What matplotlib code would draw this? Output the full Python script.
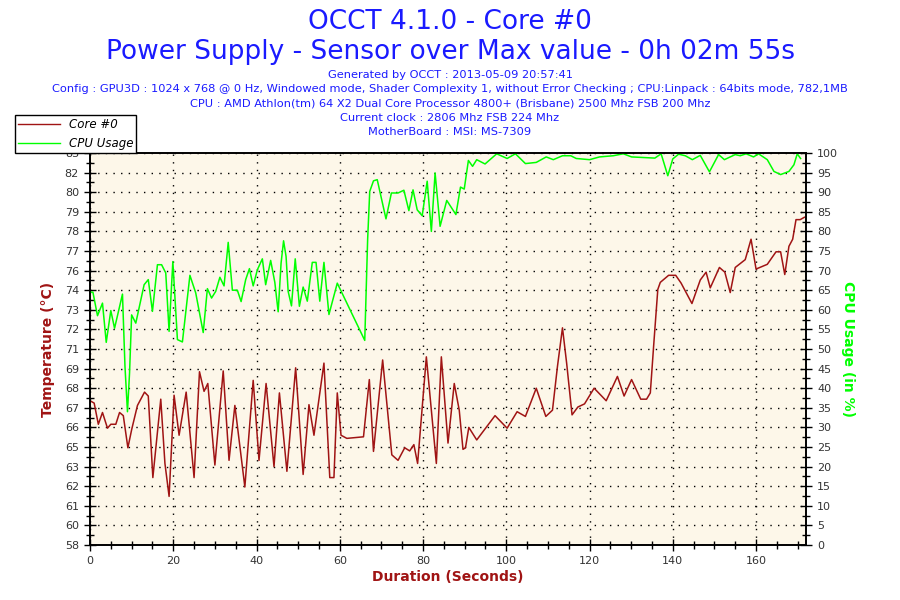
import matplotlib
matplotlib.use("Agg")
import matplotlib.pyplot as plt
from matplotlib.ticker import MultipleLocator, AutoMinorLocator
from matplotlib.lines import Line2D

# Core #0 temperature (seconds, degC)
core_t = [0, 1, 2, 3, 4.2, 5, 6.2, 7.1, 8, 9.1, 10, 11.4, 13.1, 14, 15.1, 17, 18, 19,
          20.2, 21.4, 23.1, 25, 26.3, 27.4, 28.3, 30, 32, 33.4, 34.8, 37.2, 39.2, 40.6,
          42.3, 44.2, 45.5, 47.3, 49.4, 51.2, 52.6, 53.8, 56.2, 57.6, 58.6, 59.4, 60.3,
          61.7, 65.7, 67.1, 68.1, 70.3, 72.5, 74, 75.6, 76.8, 77.8, 78.7, 80.8, 83.2,
          84.4, 86, 87.5, 88.7, 89.6, 90.2, 91, 92.9, 97.3, 100.2, 102.6, 104.6, 107.2,
          109.5, 111.1, 112.3, 113.5, 114.5, 115.8, 117.2, 118.8, 121.1, 124, 126.7,
          128.3, 130.1, 132.3, 133.7, 134.6, 135.4, 136.4, 137, 139, 140.7, 142, 144.6,
          146.6, 148, 149, 151.2, 152.5, 153.8, 155, 157.4, 158.8, 160, 162.7, 164.8,
          165.9, 166.9, 167.9, 168.8, 169.6, 170.6, 171.6]
core_temp = [67.2, 67.05, 65.7, 66.45, 65.45, 65.7, 65.7, 66.45, 66.25, 64.2, 65.35,
             66.9, 67.75, 67.5, 62.3, 67.3, 63.2, 61.1, 67.55, 65, 67.75, 62.3, 69.05,
             67.8, 68.3, 63.1, 69.1, 63.4, 66.9, 61.7, 68.5, 63.4, 68.3, 63, 67.7, 62.7,
             69.3, 62.5, 66.95, 65.0, 69.6, 62.3, 62.3, 67.7, 65.0, 64.8, 64.9, 68.55,
             63.97, 69.8, 63.75, 63.4, 64.2, 64, 64.4, 63.2, 70, 63.2, 70, 64.5, 68.3,
             66.6, 64.1, 64.2, 65.5, 64.7, 66.25, 65.45, 66.5, 66.2, 68, 66.2, 66.6, 69.4,
             71.85, 69.6, 66.3, 66.8, 67, 68, 67.2, 68.75, 67.5, 68.55, 67.3, 67.3, 67.7,
             70.7, 74.3, 74.75, 75.2, 75.2, 74.7, 73.4, 74.9, 75.4, 74.4, 75.7, 75.4,
             74.1, 75.7, 76.2, 77.5, 75.6, 75.9, 76.7, 76.7, 75.25, 77.05, 77.5, 78.75,
             78.75, 78.9]

# CPU usage (seconds, %)
cpu_t = [0, 0.7, 1.8, 3, 3.9, 5, 5.9, 7.8, 8.4, 9, 9.5, 10, 11, 13, 14, 15, 16.2, 17.2,
         18.2, 19, 19.9, 21, 22.2, 24, 25.4, 27.2, 28.2, 29.2, 30.2, 31.2, 32.2, 33.2,
         34.2, 35.4, 36.3, 37.4, 38.3, 39.2, 40.2, 41.4, 42.2, 43.4, 44.4, 45.2, 45.9,
         46.5, 47.1, 47.6, 48.4, 49.3, 50.3, 51.2, 52.2, 53.4, 54.3, 55.2, 56.2, 57.4,
         59.4, 66, 66.7, 67.2, 68.1, 69, 71.1, 72.4, 74, 75.4, 76.6, 77.6, 78.6, 79.8,
         81, 82, 82.9, 84.1, 85.7, 87.9, 89, 89.9, 90.9, 91.9, 92.9, 94.9, 97.7, 100.2,
         102.2, 104.6, 107.2, 109.6, 111.3, 113.5, 115.5, 116.8, 120, 122.4, 125.7,
         128.1, 130.1, 135.7, 137.2, 138.8, 140, 141.4, 143, 144.7, 146.6, 148.8, 151,
         152.4, 155, 156.2, 157.6, 159.4, 160.6, 162.7, 164.3, 165.9, 167.9, 169.1,
         169.9, 170.7]
cpu_usage = [64.5, 64.5, 58.5, 61.7, 51.7, 59.8, 55.3, 64, 45.6, 34, 43.9, 58.7, 56.6,
             66.4, 67.7, 59.6, 71.5, 71.5, 69.4, 54.5, 72.3, 52.4, 51.8, 68.8, 64.3, 54.2,
             65.4, 63, 64.7, 68.3, 66.1, 77.2, 65, 65, 62.1, 67.7, 70.5, 66.1, 70.2, 73,
             66.4, 72.6, 67, 59.5, 71.9, 77.6, 73.6, 64.7, 61, 73, 60.9, 65.8, 62.2, 72.1,
             72.1, 62.2, 72.1, 58.8, 66.8, 52.2, 78.1, 90.2, 92.9, 93.2, 83.2, 89.8, 89.8,
             90.5, 85.3, 90.6, 85.5, 84, 92.8, 80, 94.9, 81.3, 87.9, 84.3, 91.3, 90.8,
             98.1, 96.6, 98.3, 97.2, 99.8, 98.6, 99.8, 97.3, 97.6, 99, 98.3, 99.3, 99.3,
             98.6, 98.3, 99, 99.3, 99.8, 99, 98.7, 99.8, 94.2, 98.5, 99.7, 99.3, 98.3,
             99.4, 95.2, 99.6, 98.3, 99.6, 99.3, 99.8, 99, 99.8, 98.3, 95.3, 94.5, 95.3,
             97, 99.8, 98.6]

temp_labels = ["58", "60", "61", "62", "63", "65", "66", "67", "68", "69", "71",
               "72", "73", "74", "76", "77", "78", "79", "80", "82", "83"]
pct_ticks = list(range(0, 101, 5))

title_blue = "#1a1aff"
red = "#a01414"
green = "#00ff00"

fig = plt.figure(figsize=(9, 6), dpi=100)
ax = fig.add_axes([90 / 900, 55 / 600, 716 / 900, 392 / 600])
ax.set_facecolor("#fdf7e9")
ax2 = ax.twinx()

ax.plot(core_t, core_temp, color=red, lw=1.1)
ax2.plot(cpu_t, cpu_usage, color=green, lw=1.1)

ax.set_xlim(0, 172)
ax.set_ylim(58, 83)
ax2.set_ylim(0, 100)

temp_ticks = [58 + p * 0.25 for p in pct_ticks]
ax.set_yticks(temp_ticks)
ax.set_yticklabels(temp_labels)
ax2.set_yticks(pct_ticks)
ax.yaxis.set_minor_locator(AutoMinorLocator(2))
ax2.yaxis.set_minor_locator(AutoMinorLocator(2))
ax.xaxis.set_major_locator(MultipleLocator(20))
ax.xaxis.set_minor_locator(MultipleLocator(5))

for a in (ax, ax2):
    a.tick_params(which="major", direction="inout", length=9, width=1,
                  labelsize=8, labelcolor="#333333")
    a.tick_params(which="minor", direction="inout", length=6, width=1)
    for s in a.spines.values():
        s.set_linewidth(1.2)

ax.grid(True, which="major", color="black", linestyle=(0, (1, 4.5)), lw=1)

ax.set_xlabel("Duration (Seconds)", color=red, fontweight="bold", fontsize=10, labelpad=3)
ax.set_ylabel("Temperature (°C)", color=red, fontweight="bold", fontsize=10, labelpad=7)
ax2.set_ylabel("CPU Usage (in %)", color=green, fontweight="bold", fontsize=10,
               rotation=270, labelpad=12)

fig.text(0.5, 1 - 22 / 600, "OCCT 4.1.0 - Core #0", ha="center", va="center",
         fontsize=19, color=title_blue)
fig.text(0.5, 1 - 52 / 600, "Power Supply - Sensor over Max value - 0h 02m 55s",
         ha="center", va="center", fontsize=19, color=title_blue)
info = ["Generated by OCCT : 2013-05-09 20:57:41",
        "Config : GPU3D : 1024 x 768 @ 0 Hz, Windowed mode, Shader Complexity 1, "
        "without Error Checking ; CPU:Linpack : 64bits mode, 782,1MB",
        "CPU : AMD Athlon(tm) 64 X2 Dual Core Processor 4800+ (Brisbane) 2500 Mhz FSB 200 Mhz",
        "Current clock : 2806 Mhz FSB 224 Mhz",
        "MotherBoard : MSI: MS-7309"]
for i, line in enumerate(info):
    fig.text(0.5, 1 - (75 + i * 14.3) / 600, line, ha="center", va="center",
             fontsize=8.2, color=title_blue)

handles = [Line2D([], [], color=red, lw=1), Line2D([], [], color=green, lw=1)]
leg = fig.legend(handles, ["Core #0", "CPU Usage"], loc="upper left",
                 bbox_to_anchor=(15 / 900, 1 - 115 / 600), borderaxespad=0,
                 prop={"style": "italic", "size": 8.5}, fancybox=False,
                 edgecolor="black", framealpha=1, handlelength=3.6,
                 borderpad=0.25, labelspacing=0.5, handletextpad=0.7)
leg.get_frame().set_linewidth(1)

fig.savefig("out.png", dpi=100, facecolor="white")
